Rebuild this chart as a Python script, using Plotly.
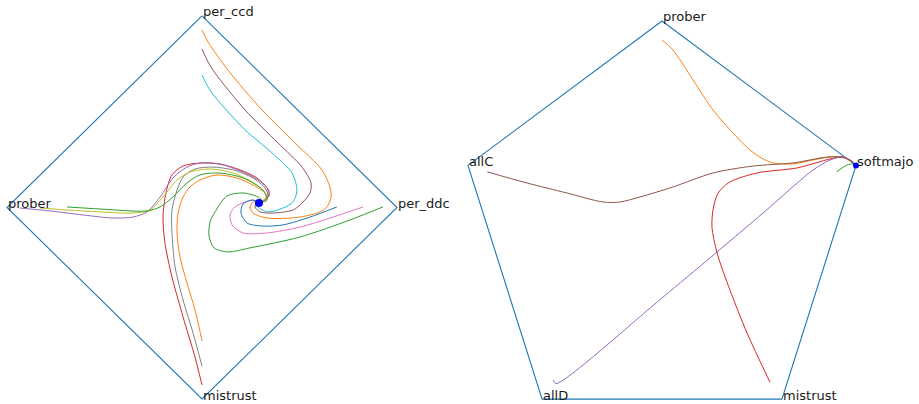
import numpy as np
import plotly.graph_objects as go

# Simplex vertex labels (clockwise from the top)
left_labels = ["per_ccd", "per_ddc", "mistrust", "prober"]
right_labels = ["prober", "softmajo", "mistrust", "allD", "allC"]

# tab10 colour cycle
TAB = {
    "blue": "#1f77b4", "orange": "#ff7f0e", "green": "#2ca02c", "red": "#d62728",
    "purple": "#9467bd", "brown": "#8c564b", "pink": "#e377c2", "gray": "#7f7f7f",
    "olive": "#bcbd22", "cyan": "#17becf",
}

# ---- 4-strategy simplex: trajectories in the projected plane ----
l_ccd_a = [(0.000, 0.927), (0.031, 0.864), (0.133, 0.718), (0.308, 0.509), (0.477, 0.337),
           (0.615, 0.196), (0.656, 0.107), (0.662, 0.055), (0.641, 0.003), (0.605, -0.023),
           (0.503, -0.050), (0.333, -0.055), (0.262, -0.029), (0.246, 0.003), (0.262, 0.029),
           (0.292, 0.023)]
l_ddc_a = [(0.928, 0.003), (0.759, -0.065), (0.503, -0.154), (0.246, -0.211), (0.133, -0.232),
           (0.062, -0.211), (0.036, -0.149), (0.041, -0.076), (0.067, -0.023), (0.128, 0.060),
           (0.210, 0.076), (0.287, 0.055), (0.313, 0.029), (0.292, 0.023)]
l_mis_a = [(0.000, -0.927), (-0.036, -0.781), (-0.097, -0.572), (-0.154, -0.363), (-0.190, -0.185),
           (-0.200, -0.050), (-0.185, 0.076), (-0.154, 0.170), (-0.097, 0.217), (-0.010, 0.232),
           (0.092, 0.227), (0.195, 0.196), (0.282, 0.154), (0.333, 0.102), (0.344, 0.060),
           (0.292, 0.023)]
l_pro_a = [(-0.933, -0.003), (-0.779, -0.018), (-0.610, -0.039), (-0.456, -0.055), (-0.354, -0.050),
           (-0.282, -0.023), (-0.215, 0.055), (-0.149, 0.154), (-0.077, 0.211), (-0.010, 0.232),
           (0.092, 0.227), (0.195, 0.191), (0.287, 0.144), (0.344, 0.086), (0.328, 0.039),
           (0.292, 0.023)]
l_ccd_b = [(0.000, 0.828), (0.031, 0.760), (0.067, 0.702), (0.221, 0.509), (0.390, 0.337),
           (0.513, 0.211), (0.559, 0.128), (0.554, 0.076), (0.513, 0.023), (0.467, -0.013),
           (0.364, -0.029), (0.297, -0.023), (0.272, 0.003), (0.282, 0.029), (0.292, 0.023)]
l_ddc_b = [(0.826, 0.003), (0.672, -0.050), (0.503, -0.102), (0.333, -0.133), (0.210, -0.133),
           (0.154, -0.091), (0.144, -0.039), (0.169, 0.003), (0.221, 0.029), (0.262, 0.039),
           (0.292, 0.023)]
l_mis_b = [(0.000, -0.828), (-0.046, -0.655), (-0.097, -0.483), (-0.138, -0.311), (-0.154, -0.133),
           (-0.154, -0.013), (-0.128, 0.091), (-0.097, 0.159), (-0.036, 0.201), (0.056, 0.211),
           (0.159, 0.196), (0.262, 0.154), (0.323, 0.102), (0.338, 0.060), (0.292, 0.023)]
l_pro_b = [(-0.828, -0.003), (-0.692, -0.013), (-0.523, -0.023), (-0.354, -0.029), (-0.267, -0.013),
           (-0.200, 0.055), (-0.128, 0.144), (-0.062, 0.185), (0.041, 0.201), (0.159, 0.180),
           (0.282, 0.117), (0.333, 0.055), (0.292, 0.023)]
l_ccd_c = [(0.000, 0.692), (0.031, 0.629), (0.067, 0.577), (0.221, 0.405), (0.359, 0.285),
           (0.462, 0.180), (0.487, 0.091), (0.467, 0.029), (0.415, -0.003), (0.338, -0.023),
           (0.287, 0.003), (0.292, 0.023)]
l_ddc_c = [(0.692, 0.003), (0.554, -0.050), (0.415, -0.091), (0.313, -0.097), (0.231, -0.081),
           (0.200, -0.029), (0.210, 0.018), (0.262, 0.039), (0.292, 0.023)]
l_mis_c = [(0.000, -0.697), (-0.036, -0.535), (-0.077, -0.394), (-0.113, -0.258), (-0.128, -0.133),
           (-0.123, -0.029), (-0.097, 0.055), (-0.062, 0.107), (-0.010, 0.144), (0.077, 0.170),
           (0.179, 0.154), (0.262, 0.117), (0.323, 0.076), (0.328, 0.044), (0.292, 0.023)]
l_pro_c = [(-0.692, 0.003), (-0.523, -0.008), (-0.282, -0.018), (-0.215, 0.003), (-0.149, 0.055),
           (-0.077, 0.128), (-0.010, 0.170), (0.092, 0.180), (0.210, 0.154), (0.313, 0.091),
           (0.333, 0.039), (0.292, 0.023)]
left_rest = (0.292, 0.023)

# ---- 5-strategy simplex ----
r_prober = [(0.000, 0.909), (0.054, 0.861), (0.152, 0.718), (0.250, 0.574), (0.348, 0.464),
            (0.431, 0.383), (0.495, 0.340), (0.544, 0.321), (0.642, 0.316), (0.740, 0.335),
            (0.824, 0.349), (0.887, 0.349), (0.931, 0.325), (0.951, 0.309)]
r_softmajo = [(0.856, 0.278), (0.907, 0.311), (0.936, 0.316), (0.951, 0.309)]
r_mistrust = [(0.529, -0.728), (0.417, -0.493), (0.333, -0.287), (0.270, -0.110), (0.245, 0.014),
              (0.250, 0.096), (0.275, 0.177), (0.333, 0.230), (0.466, 0.273), (0.662, 0.297),
              (0.824, 0.340), (0.887, 0.349), (0.936, 0.325), (0.951, 0.309)]
r_allD = [(-0.534, -0.718), (-0.520, -0.735), (0.005, -0.321), (0.495, 0.081), (0.740, 0.287),
          (0.824, 0.335), (0.887, 0.349), (0.936, 0.325), (0.951, 0.309)]
r_allC = [(-0.856, 0.278), (-0.662, 0.225), (-0.466, 0.177), (-0.289, 0.134), (-0.206, 0.134),
          (-0.108, 0.158), (0.054, 0.206), (0.250, 0.273), (0.446, 0.306), (0.642, 0.321),
          (0.809, 0.349), (0.873, 0.349), (0.922, 0.335), (0.951, 0.309)]
right_rest = (0.951, 0.309)

left_paths = [
    (l_ccd_a, "orange"), (l_ddc_a, "green"), (l_mis_a, "red"), (l_pro_a, "purple"),
    (l_ccd_b, "brown"), (l_ddc_b, "pink"), (l_mis_b, "gray"), (l_pro_b, "olive"),
    (l_ccd_c, "cyan"), (l_ddc_c, "blue"), (l_mis_c, "orange"), (l_pro_c, "green"),
]
right_paths = [
    (r_prober, "orange"), (r_softmajo, "green"), (r_mistrust, "red"),
    (r_allD, "purple"), (r_allC, "brown"),
]


def vertices(n):
    ang = np.deg2rad(90 - 360 * np.arange(n) / n)
    return np.round(np.cos(ang), 6), np.round(np.sin(ang), 6)


fig = go.Figure()


def draw_simplex(labels, paths, rest, xa, ya, dot_size):
    vx, vy = vertices(len(labels))
    fig.add_trace(go.Scatter(
        x=list(vx) + [vx[0]], y=list(vy) + [vy[0]], mode="lines",
        line=dict(color=TAB["blue"], width=1.1), xaxis=xa, yaxis=ya, hoverinfo="skip"))
    for pts, col in paths:
        xs, ys = zip(*pts)
        fig.add_trace(go.Scatter(
            x=xs, y=ys, mode="lines",
            line=dict(color=TAB[col], width=1, shape="spline", smoothing=0.8),
            xaxis=xa, yaxis=ya))
    fig.add_trace(go.Scatter(
        x=[rest[0]], y=[rest[1]], mode="markers",
        marker=dict(color="#0000ff", size=dot_size), xaxis=xa, yaxis=ya))
    for name, x, y in zip(labels, vx, vy):
        fig.add_annotation(
            x=x, y=y, xref=xa, yref=ya, text=name, showarrow=False,
            xanchor="left", yanchor="bottom", borderpad=0, yshift=-4.5,
            font=dict(family="DejaVu Sans", size=13, color="#1a1a1a"))


draw_simplex(left_labels, left_paths, left_rest, "x", "y", 8)
draw_simplex(right_labels, right_paths, right_rest, "x2", "y2", 6)

hidden = dict(visible=False, showgrid=False, zeroline=False, fixedrange=True)
fig.update_layout(
    width=919, height=404, autosize=False,
    margin=dict(l=0, r=0, t=0, b=0),
    paper_bgcolor="white", plot_bgcolor="white",
    showlegend=False,
    xaxis=dict(range=[-1.03, 1.03], domain=[0.00125, 0.43836], **hidden),
    yaxis=dict(range=[-1.02, 1.04], domain=[0.0029, 0.9794], **hidden),
    xaxis2=dict(range=[-1.0, 1.0], domain=[0.49837, 0.94233], **hidden),
    yaxis2=dict(range=[-0.82, 1.06], domain=[0.00649, 0.97906], **hidden),
)

fig.write_html("out.html")
